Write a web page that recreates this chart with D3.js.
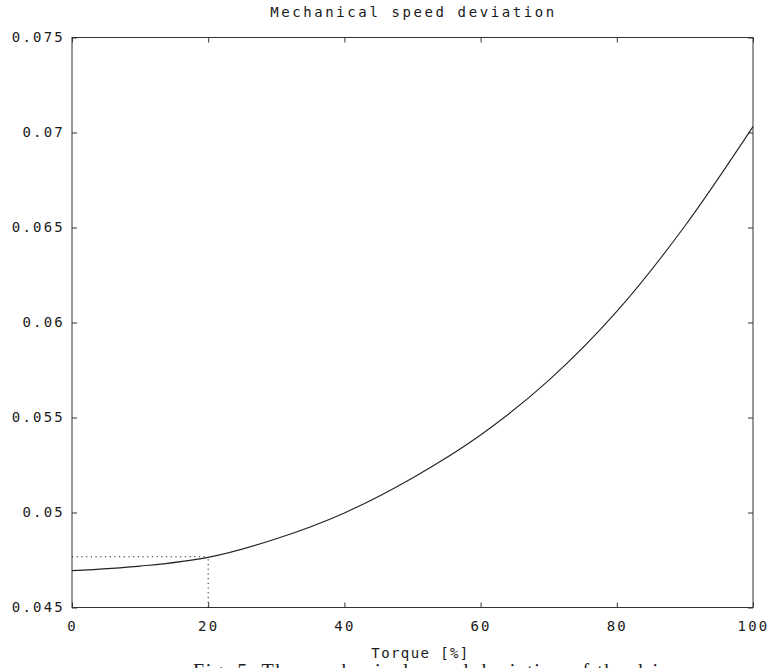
<!DOCTYPE html>
<html>
<head>
<meta charset="utf-8">
<script src="https://cdn.jsdelivr.net/npm/d3@7"></script>
<style>
  body { margin: 0; background: #fff; }
  svg { display: block; }
  .mono { font-family: "DejaVu Sans Mono", monospace; fill: #1a1a1a; }
</style>
</head>
<body>
<svg id="mainsvg" width="772" height="668"></svg>
<script>
// torque in %, speed deviation
const torque = [0, 10, 20, 30, 40, 50, 60, 70, 80, 90, 100];
const deviation = [0.04694, 0.04718, 0.04764, 0.04862, 0.04998, 0.05182, 0.05408, 0.05695, 0.06058, 0.06508, 0.07031];

const xTicks = [0, 20, 40, 60, 80, 100];
const xTickLabels = ['0', '20', '40', '60', '80', '100'];
const yTicks = [0.045, 0.05, 0.055, 0.06, 0.065, 0.07, 0.075];
const yTickLabels = ['0.045', '0.05', '0.055', '0.06', '0.065', '0.07', '0.075'];

// operating point marked with dotted lines
const markTorque = [20];
const markDeviation = [0.04767];

const svg = d3.select('#mainsvg');
const width = +svg.attr('width');
const height = +svg.attr('height');
const margin = { top: 37.5, right: 19, bottom: 60.5, left: 72 };
const innerWidth = width - margin.left - margin.right;
const innerHeight = height - margin.top - margin.bottom;

const xScale = d3.scaleLinear().domain([0, 100]).range([0, innerWidth]);
const yScale = d3.scaleLinear().domain([0.045, 0.075]).range([innerHeight, 0]);

const g = svg.append('g')
    .attr('transform', `translate(${margin.left}, ${margin.top})`);

// frame
g.append('rect')
    .attr('width', innerWidth).attr('height', innerHeight)
    .attr('fill', 'none').attr('stroke', '#333').attr('stroke-width', 1);

const tickLen = 5;
const axisStyle = sel => {
    sel.select('.domain').remove();
    sel.selectAll('.tick line').attr('stroke', '#333');
    sel.selectAll('.tick text')
        .attr('class', 'mono')
        .attr('font-size', '14px')
        .attr('letter-spacing', '2.2px');
};

// bottom axis, ticks inside
g.append('g')
    .attr('transform', `translate(0, ${innerHeight})`)
    .call(d3.axisBottom(xScale).tickValues(xTicks)
        .tickFormat((d, i) => xTickLabels[i]).tickSizeInner(-tickLen).tickPadding(14))
    .call(axisStyle);

// top axis ticks
g.append('g')
    .call(d3.axisTop(xScale).tickValues(xTicks).tickFormat('').tickSizeInner(-tickLen))
    .call(axisStyle);

// left axis
g.append('g')
    .call(d3.axisLeft(yScale).tickValues(yTicks)
        .tickFormat((d, i) => yTickLabels[i]).tickSizeInner(-tickLen).tickPadding(7))
    .call(axisStyle);

// right axis ticks
g.append('g')
    .attr('transform', `translate(${innerWidth}, 0)`)
    .call(d3.axisRight(yScale).tickValues(yTicks).tickFormat('').tickSizeInner(-tickLen))
    .call(axisStyle);

// dotted guide lines
g.append('line')
    .attr('x1', xScale(0)).attr('x2', xScale(markTorque[0]))
    .attr('y1', yScale(markDeviation[0])).attr('y2', yScale(markDeviation[0]))
    .attr('stroke', '#222').attr('stroke-dasharray', '1.2,3.5');
g.append('line')
    .attr('x1', xScale(markTorque[0])).attr('x2', xScale(markTorque[0]))
    .attr('y1', yScale(0.045)).attr('y2', yScale(markDeviation[0]))
    .attr('stroke', '#222').attr('stroke-dasharray', '1.2,3.5');

// curve
const line = d3.line()
    .x((d, i) => xScale(torque[i]))
    .y(d => yScale(d))
    .curve(d3.curveMonotoneX);
g.append('path')
    .datum(deviation)
    .attr('d', line)
    .attr('fill', 'none')
    .attr('stroke', '#222')
    .attr('stroke-width', 1.1);

// title
svg.append('text')
    .attr('class', 'mono')
    .attr('x', margin.left + innerWidth / 2 + 1)
    .attr('y', 17)
    .attr('text-anchor', 'middle')
    .attr('font-size', '14px')
    .attr('letter-spacing', '2.6px')
    .text('Mechanical speed deviation');

// x label
svg.append('text')
    .attr('class', 'mono')
    .attr('x', margin.left + innerWidth / 2 + 8)
    .attr('y', 658)
    .attr('text-anchor', 'middle')
    .attr('font-size', '14px')
    .attr('letter-spacing', '1.4px')
    .text('Torque [%]');

// caption, cut by the page edge
svg.append('text')
    .attr('x', 193)
    .attr('y', 678)
    .attr('font-family', '"Liberation Serif", serif')
    .attr('font-size', '20px')
    .attr('fill', '#222')
    .attr('textLength', 487)
    .attr('lengthAdjust', 'spacing')
    .text('Fig. 5. The mechanical speed deviation of the drive');
</script>
</body>
</html>
